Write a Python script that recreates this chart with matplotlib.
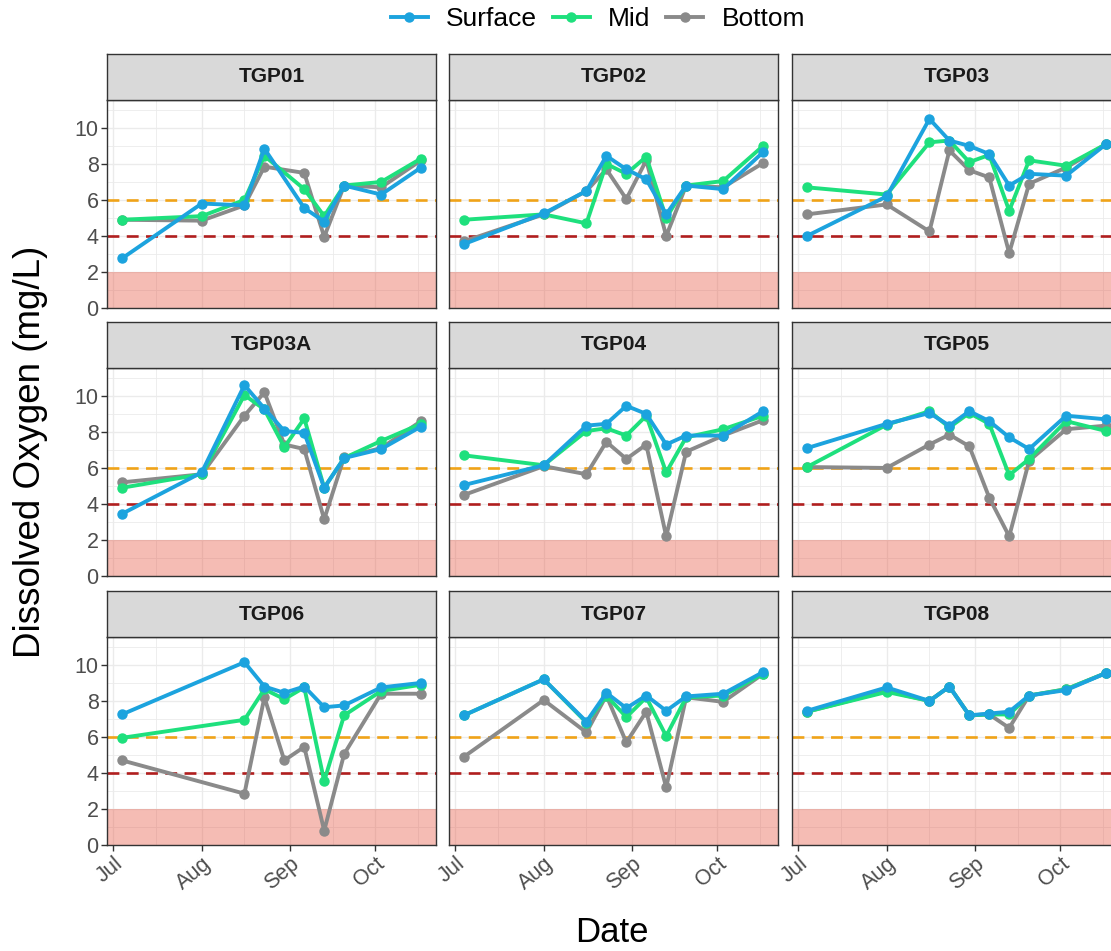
import numpy as np
import matplotlib
matplotlib.use("Agg")
import matplotlib.pyplot as plt
import matplotlib.dates as mdates
from matplotlib.lines import Line2D

plt.rcParams['font.family'] = ['Liberation Sans', 'DejaVu Sans']

nan = np.nan

# sampling dates
sample_dates = ["2023-07-04", "2023-08-01", "2023-08-16", "2023-08-23", "2023-08-30",
                "2023-09-06", "2023-09-13", "2023-09-20", "2023-10-03", "2023-10-17"]

stations = ["TGP01", "TGP02", "TGP03", "TGP03A", "TGP04", "TGP05", "TGP06", "TGP07", "TGP08"]

surface = {
    "TGP01": [2.75, 5.8, 5.7, 8.85, nan, 5.55, 4.8, 6.8, 6.3, 7.8],
    "TGP02": [3.55, 5.25, 6.5, 8.45, 7.7, 7.15, 5.2, 6.8, 6.6, 8.65],
    "TGP03": [4.0, 6.2, 10.5, 9.3, 9.0, 8.55, 6.8, 7.45, 7.35, 9.1],
    "TGP03A": [3.45, 5.75, 10.6, 9.3, 8.05, 7.95, 4.9, 6.55, 7.05, 8.3],
    "TGP04": [5.05, 6.15, 8.35, 8.45, 9.45, 9.0, 7.3, 7.8, 7.8, 9.15],
    "TGP05": [7.1, 8.45, 9.05, 8.35, 9.15, 8.6, 7.7, 7.05, 8.9, 8.7],
    "TGP06": [7.25, nan, 10.15, 8.8, 8.45, 8.8, 7.65, 7.75, 8.75, 9.0],
    "TGP07": [7.2, 9.2, 6.85, 8.45, 7.6, 8.3, 7.45, 8.25, 8.4, 9.6],
    "TGP08": [7.45, 8.75, 8.0, 8.8, 7.2, 7.3, 7.4, 8.3, 8.6, 9.55],
}
mid = {
    "TGP01": [4.9, 5.1, 6.0, 8.45, nan, 6.6, 5.1, 6.8, 7.0, 8.3],
    "TGP02": [4.9, 5.2, 4.7, 8.0, 7.45, 8.4, 5.0, 6.8, 7.05, 9.0],
    "TGP03": [6.7, 6.3, 9.2, 9.3, 8.1, 8.5, 5.4, 8.2, 7.9, 9.1],
    "TGP03A": [4.9, 5.65, 10.05, 9.25, 7.15, 8.75, 4.9, 6.55, 7.5, 8.45],
    "TGP04": [6.7, 6.15, 8.05, 8.2, 7.8, 8.9, 5.75, 7.7, 8.15, 8.9],
    "TGP05": [6.05, 8.4, 9.15, 8.25, 9.05, 8.45, 5.6, 6.5, 8.6, 8.05],
    "TGP06": [5.95, nan, 6.95, 8.65, 8.1, 8.75, 3.55, 7.2, 8.55, 8.9],
    "TGP07": [7.2, 9.2, 6.8, 8.3, 7.1, 8.2, 6.05, 8.2, 8.3, 9.5],
    "TGP08": [7.4, 8.5, 8.0, 8.8, 7.2, 7.25, 7.25, 8.3, 8.65, 9.55],
}
bottom = {
    "TGP01": [4.9, 4.85, 5.7, 7.85, nan, 7.5, 3.95, 6.8, 6.7, 8.2],
    "TGP02": [3.7, 5.2, 6.5, 7.7, 6.05, 8.2, 4.0, 6.8, 6.7, 8.05],
    "TGP03": [5.2, 5.75, 4.25, 8.75, 7.65, 7.25, 3.05, 6.9, 7.8, 9.1],
    "TGP03A": [5.2, 5.65, 8.9, 10.2, 7.3, 7.05, 3.15, 6.6, 7.1, 8.6],
    "TGP04": [4.5, 6.1, 5.65, 7.45, 6.5, 7.3, 2.2, 6.9, 7.8, 8.65],
    "TGP05": [6.05, 6.0, 7.3, 7.85, 7.2, 4.35, 2.2, 6.4, 8.15, 8.35],
    "TGP06": [4.7, nan, 2.85, 8.2, 4.7, 5.45, 0.8, 5.05, 8.4, 8.4],
    "TGP07": [4.9, 8.05, 6.25, 8.3, 5.7, 7.4, 3.2, 8.2, 7.95, 9.5],
    "TGP08": [7.4, 8.55, 8.0, 8.8, 7.2, 7.25, 6.5, 8.3, 8.65, 9.55],
}

depth_names = ["Surface", "Mid", "Bottom"]
depth_colors = {"Surface": "#1CA3DE", "Mid": "#1EE07D", "Bottom": "#8A8A8A"}
depth_data = {"Surface": surface, "Mid": mid, "Bottom": bottom}

W, H = 1111, 951
col_left = [107, 449, 792]
row_top = [100, 368, 637]
pw, ph, strip_h = 329, 208, 46

x = mdates.datestr2num(sample_dates)
span = x.max() - x.min()
xlim = (x.min() - 0.05 * span, x.max() + 0.05 * span)
major = mdates.datestr2num(["2023-07-01", "2023-08-01", "2023-09-01", "2023-10-01"])
minor = mdates.datestr2num(["2023-07-16", "2023-08-16", "2023-09-16", "2023-10-16"])


def fig_rect(left, top, w, h):
    return [left / W, 1 - (top + h) / H, w / W, h / H]


fig = plt.figure(figsize=(W / 100, H / 100), dpi=100)

for i, st in enumerate(stations):
    r, c = divmod(i, 3)
    ax = fig.add_axes(fig_rect(col_left[c], row_top[r], pw, ph))
    ax.set_xlim(*xlim)
    ax.set_ylim(0, 11.55)

    # grid like theme_bw
    for v in major:
        ax.axvline(v, color="#EBEBEB", lw=1.0, zorder=0)
    for v in minor:
        ax.axvline(v, color="#EBEBEB", lw=0.6, zorder=0)
    for v in range(0, 12, 2):
        ax.axhline(v, color="#EBEBEB", lw=1.0, zorder=0)
    for v in range(1, 12, 2):
        ax.axhline(v, color="#EBEBEB", lw=0.6, zorder=0)

    ax.axhspan(0, 2, color="#E6503C", alpha=0.38, lw=0, zorder=1)
    ax.axhline(6, color="#F0A318", lw=1.9, ls=(0, (4.5, 2.8)), zorder=2)
    ax.axhline(4, color="#B01E1E", lw=1.9, ls=(0, (4.5, 2.8)), zorder=2)

    for name in ["Bottom", "Mid", "Surface"]:
        y = np.array(depth_data[name][st], dtype=float)
        ok = ~np.isnan(y)
        ax.plot(x[ok], y[ok], color=depth_colors[name], lw=2.8, marker="o",
                ms=6.5, zorder=3)

    ax.set_xticks(major)
    ax.set_yticks([0, 2, 4, 6, 8, 10])
    ax.tick_params(length=4, width=1, color="#333333", labelcolor="#4D4D4D",
                   labelsize=15.5, pad=2)
    if r == 2:
        ax.set_xticklabels(["Jul", "Aug", "Sep", "Oct"], rotation=40, ha="right",
                           va="top", rotation_mode="anchor")
    else:
        ax.set_xticklabels([])
        ax.tick_params(axis="x", length=0)
    if c != 0:
        ax.set_yticklabels([])
        ax.tick_params(axis="y", length=0)
    for s in ax.spines.values():
        s.set_color("#333333")
        s.set_linewidth(1.0)

    sax = fig.add_axes(fig_rect(col_left[c], row_top[r] - strip_h, pw, strip_h))
    sax.set_facecolor("#D9D9D9")
    sax.set_xticks([])
    sax.set_yticks([])
    for s in sax.spines.values():
        s.set_color("#333333")
        s.set_linewidth(1.0)
    sax.text(0.5, 0.5, st, ha="center", va="center", fontsize=15, fontweight="bold",
             color="#1A1A1A", transform=sax.transAxes)

fig.text(31 / W, 1 - 452 / H, "Dissolved Oxygen (mg/L)", rotation=90, ha="center",
         va="center", fontsize=26.5)
fig.text(612 / W, 1 - 933 / H, "Date", ha="center", va="center", fontsize=25)

handles = [Line2D([0], [0], color=depth_colors[n], lw=2.8, marker="o", ms=6.5)
           for n in depth_names]
fig.legend(handles, depth_names, loc="center", bbox_to_anchor=(598 / W, 1 - 19 / H),
           ncol=3, frameon=False, fontsize=19, handlelength=1.4, columnspacing=0.6,
           handletextpad=0.7)

fig.savefig("out.png", dpi=100)
